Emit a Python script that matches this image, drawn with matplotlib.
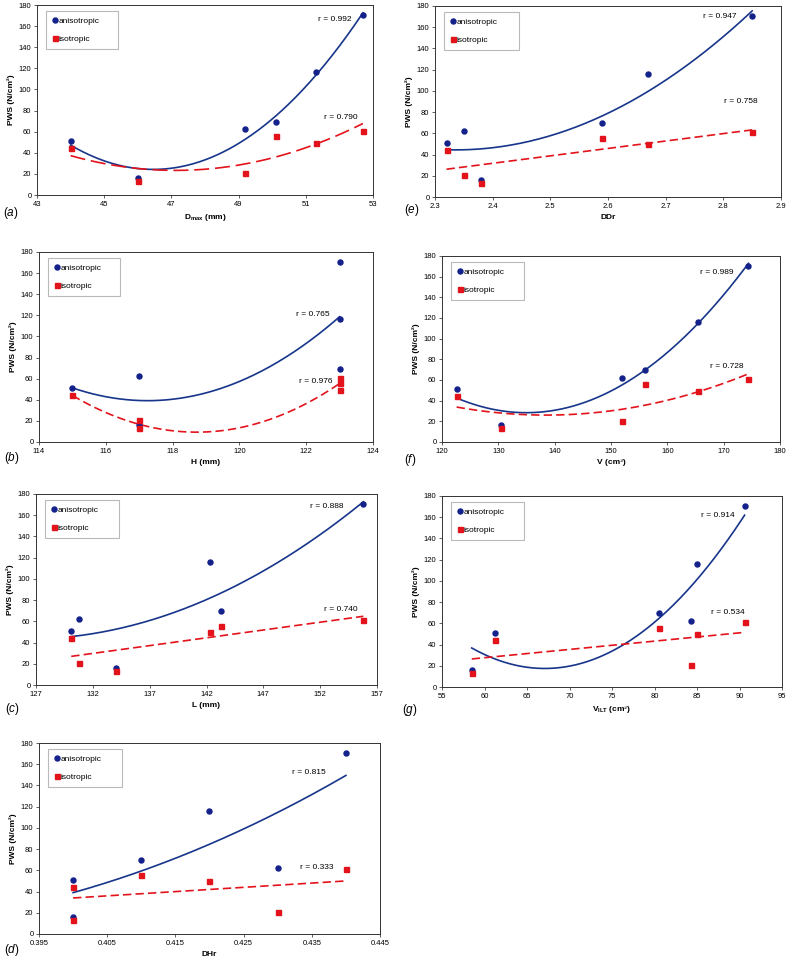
import numpy as np
import matplotlib
matplotlib.use("Agg")
import matplotlib.pyplot as plt

plt.rcParams['font.family'] = ['Liberation Sans', 'DejaVu Sans']
plt.rcParams['mathtext.fontset'] = 'custom'
plt.rcParams['mathtext.rm'] = 'Liberation Sans'
plt.rcParams['mathtext.it'] = 'Liberation Sans:italic'
plt.rcParams['mathtext.bf'] = 'Liberation Sans:bold'

# PWS values per subject (A..F)
pws_aniso = [51.3, 16.3, 62.3, 69.5, 116.2, 170.3]
pws_iso = [44.1, 13.1, 20.4, 55.7, 49.5, 61.0]

# geometric parameters per subject (A..F)
dmax = [44.0, 46.0, 49.2, 50.1, 51.3, 52.7]
ddr = [2.32, 2.38, 2.35, 2.59, 2.67, 2.85]
h = [115, 117, 117, 123, 123, 123]
vol = [122.6, 130.5, 152.0, 156.1, 165.5, 174.4]
length = [130.1, 134.0, 130.8, 143.3, 142.3, 155.8]
vilt = [61.2, 58.5, 84.3, 80.5, 85.0, 90.6]
dhr = [0.400, 0.400, 0.430, 0.410, 0.420, 0.440]

r_aniso = ['0.992', '0.765', '0.888', '0.815', '0.947', '0.989', '0.914']
r_iso = ['0.790', '0.976', '0.740', '0.333', '0.758', '0.728', '0.534']

BLUE = '#13218a'
BLUE_LINE = '#17358a'
RED = '#e3131b'

fig = plt.figure(figsize=(7.88, 9.59), dpi=100)
W, H = 788, 959


def add_axes(x0, y0, x1, y1):
    return fig.add_axes([x0 / W, 1 - y1 / H, (x1 - x0) / W, (y1 - y0) / H])


# (letter, x data, xlabel, xlim, xticks, fit degree red, axes px box, letter pos, r positions)
panels = [
    ('a', dmax, r'D$_{\mathbf{max}}$ (mm)', (43, 53), np.arange(43, 54, 2), 2,
     (37, 5, 373, 195), (11, 213), (51.86, 166), (52.03, 73)),
    ('b', h, 'H (mm)', (114, 124), np.arange(114, 125, 2), 2,
     (39, 252, 373, 442), (12, 458), (122.2, 121), (122.3, 57)),
    ('c', length, 'L (mm)', (127, 157), np.arange(127, 158, 5), 1,
     (36, 494, 377, 685), (12, 709), (152.6, 168), (153.8, 71)),
    ('d', dhr, 'DHr', (0.395, 0.445), np.arange(0.395, 0.4451, 0.01), 1,
     (39, 743, 380, 934), (12, 950), (0.4345, 152), (0.4357, 63)),
    ('e', ddr, 'DDr', (2.3, 2.9), np.arange(2.3, 2.91, 0.1), 1,
     (435, 6, 781, 197), (412, 210), (2.793, 170), (2.831, 90)),
    ('f', vol, 'V (cm³)', (120, 180), np.arange(120, 181, 10), 2,
     (442, 256, 780, 442), (410, 460), (168.8, 164.5), (170.6, 73.4)),
    ('g', vilt, r'V$_{\mathbf{ILT}}$ (cm³)', (55, 95), np.arange(55, 96, 5), 1,
     (442, 496, 782, 687), (410, 710), (87.4, 162), (88.6, 70)),
]

for i, (letter, x, xlabel, xlim, xticks, deg_red, box, lpos, rpos_a, rpos_i) in enumerate(panels):
    ax = add_axes(*box)
    x = np.array(x, dtype=float)
    ya = np.array(pws_aniso)
    yi = np.array(pws_iso)

    # polynomial trendlines fitted to the data
    xs = np.linspace(x.min(), x.max(), 200)
    ca = np.polyfit(x, ya, 2)
    ci = np.polyfit(x, yi, deg_red)
    dash = (0, (9, 3.5)) if letter == 'a' else (0, (5, 2.5))
    ax.plot(xs, np.polyval(ca, xs), color=BLUE_LINE, lw=1.2, zorder=2)
    ax.plot(xs, np.polyval(ci, xs), color=RED, lw=1.2, ls=dash, zorder=2)

    ax.plot(x, ya, 'o', color=BLUE, ms=3.6, ls='none', label='anisotropic', zorder=3)
    ax.plot(x, yi, 's', color=RED, ms=3.6, ls='none', label='isotropic', zorder=3)

    ax.set_xlim(*xlim)
    ax.set_xticks(xticks)
    if letter == 'd':
        ax.set_xticklabels(['%.3f' % t for t in xticks])
    elif letter == 'e':
        ax.set_xticklabels(['%.1f' % t for t in xticks])
    ax.set_ylim(0, 180)
    ax.set_yticks(np.arange(0, 181, 20))
    ax.tick_params(labelsize=5.5, length=2, width=0.6, color='#444444', pad=2)
    for s in ax.spines.values():
        s.set_linewidth(0.7)
        s.set_color('#333333')

    ax.set_xlabel(xlabel, fontsize=6, fontweight='bold', labelpad=3)
    ax.set_ylabel('PWS (N/cm²)', fontsize=6, fontweight='bold', labelpad=3)

    ax.text(*rpos_a, 'r = ' + r_aniso[i], fontsize=6, ha='center', va='center')
    ax.text(*rpos_i, 'r = ' + r_iso[i], fontsize=6, ha='center', va='center')

    leg = ax.legend(loc='upper left', bbox_to_anchor=(0.027, 0.78, 0.215, 0.19),
                    mode='expand', fontsize=6, frameon=True, fancybox=False,
                    handlelength=0.6, handletextpad=0.15, labelspacing=1.25,
                    borderpad=0.75, borderaxespad=0)
    leg.get_frame().set_edgecolor('#a8a8a8')
    leg.get_frame().set_linewidth(0.8)

    fig.text(lpos[0] / W, 1 - lpos[1] / H, r'($\mathit{%s}$)' % letter,
             fontsize=8.5, ha='center', va='center')

fig.savefig('out.png', dpi=100)
